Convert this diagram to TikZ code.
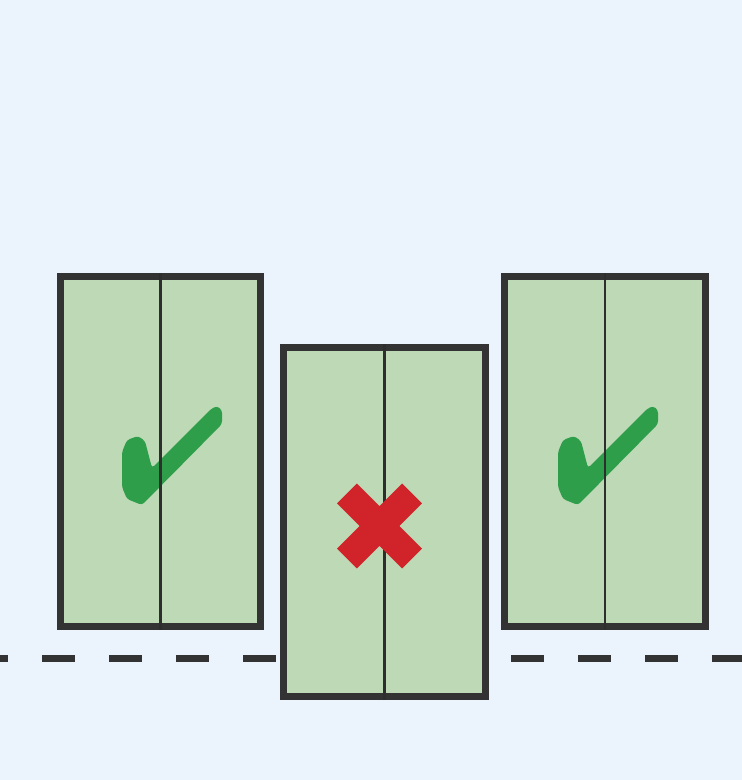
\documentclass[tikz,border=0pt]{standalone}
\usetikzlibrary{calc}
\definecolor{bgblue}{HTML}{EBF4FC}
\definecolor{boxfill}{HTML}{BDD9B5}
\definecolor{boxline}{HTML}{333333}
\definecolor{checkgreen}{HTML}{2E9E4A}
\definecolor{crossred}{HTML}{D1232A}
\tikzset{
  door/.style={draw=boxline, fill=boxfill, line width=7pt, rectangle, inner sep=0pt, minimum width=#1},
  divider/.style={draw=boxline!90!black, line width=2.6pt},
  checkmark/.style={fill=checkgreen, rounded corners=3pt},
  crossarm/.style={fill=crossred}
}
\newcommand{\checkpath}{(122,452) -- (127,440) -- (138,436) -- (145,441) -- (152,468) -- (211,409) -- (217,406) -- (222,410) -- (222,424) -- (142,505) -- (127,499) -- (122,487) -- cycle}
\begin{document}
\begin{tikzpicture}[x=1pt,y=-1pt]
\fill[bgblue] (0,0) rectangle (742,780);
\useasboundingbox (0,0) rectangle (742,780);
\clip (0,0) rectangle (742,780);
% dashed line
\coordinate (dl) at (-25,658);
\coordinate (dr) at (780,658);
\draw[boxline, line width=7pt, dash pattern=on 33pt off 34pt] (dl) -- (dr);
% left box
\node[door=200pt, minimum height=350pt] (L) at (160.5,451.5) {};
\fill[checkmark] \checkpath;
\draw[divider] (L.north) -- (L.south);
% right box
\node[door=201pt, minimum height=350pt] (R) at (605,451.5) {};
\fill[checkmark, xshift=436pt] \checkpath;
\draw[divider] (R.north) -- (R.south);
% middle box
\node[door=202pt, minimum height=349pt] (M) at (384.5,522) {};
\draw[divider] (M.north) -- (M.south);
\coordinate (xc) at (379.5,526);
\fill[crossarm, rotate around={45:(xc)}] ($(xc)+(-46,-14)$) rectangle ($(xc)+(46,14)$);
\fill[crossarm, rotate around={-45:(xc)}] ($(xc)+(-46,-14)$) rectangle ($(xc)+(46,14)$);
\end{tikzpicture}
\end{document}
